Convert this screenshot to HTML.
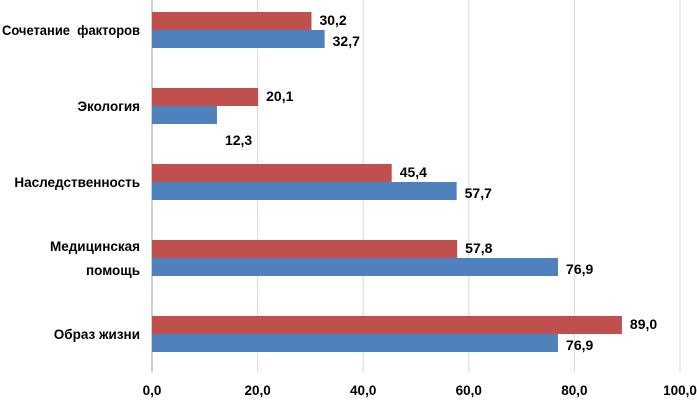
<!DOCTYPE html>
<html><head><meta charset="utf-8"><style>
html,body{margin:0;padding:0;background:#fff;}
svg{display:block;font-family:"Liberation Sans",sans-serif;}
</style></head><body>
<svg id="chart" width="697" height="400"></svg>
<script>
const categories = ["Сочетание  факторов","Экология","Наследственность","Медицинская|помощь","Образ жизни"];
const seriesRed = [30.2, 20.1, 45.4, 57.8, 89.0];
const seriesBlue = [32.7, 12.3, 57.7, 76.9, 76.9];
const ticks = [0,20,40,60,80,100];

const NS="http://www.w3.org/2000/svg";
const svg=document.getElementById('chart');
const x0=152,x1=680,yTop=0,band=76,barH=18,axisY=372;
const xs=v=>x0+(x1-x0)*v/100;
const yc=i=>30+band*i;
function mk(t,a){const e=document.createElementNS(NS,t);for(const k in a)e.setAttribute(k,a[k]);svg.appendChild(e);return e;}
const fmt=v=>v.toFixed(1).replace('.',',');

ticks.forEach(t=>{
  const g=mk('line',{x1:xs(t),x2:xs(t),y1:yTop,y2:axisY,stroke:t===0?'#a0a0a0':'#d9d9d9','stroke-width':1});
  
  
  const l=mk('text',{x:xs(t),y:395,'text-anchor':'middle','font-size':13.5,'font-weight':'bold',fill:'#000'});
  l.textContent=fmt(t);
  
  
});

categories.forEach((c,i)=>{
  const cy=yc(i);
  const r=mk('rect',{x:x0,y:cy-barH,width:xs(seriesRed[i])-x0,height:barH,fill:'#c0504d'});
  
  
  const b=mk('rect',{x:x0,y:cy,width:xs(seriesBlue[i])-x0,height:barH,fill:'#4f81bd'});
  
  
  const lr=mk('text',{x:xs(seriesRed[i])+8,y:cy-5,'font-size':14,'font-weight':'bold'});
  lr.textContent=fmt(seriesRed[i]);
  
  
  const below = seriesBlue[i] < 15 ? 23 : 0;
  const lb=mk('text',{x:xs(seriesBlue[i])+8,y:cy+16+below,'font-size':14,'font-weight':'bold'});
  lb.textContent=fmt(seriesBlue[i]);
  
  
  const parts=c.split('|');
  parts.forEach((p,j)=>{
    const t=mk('text',{x:140,y:cy+5+(j-(parts.length-1)/2)*24,'text-anchor':'end','font-size':13.5,'font-weight':'bold'});
    t.textContent=p;
    t.setAttribute('xml:space','preserve');
    t.style.whiteSpace='pre';
    if(p.length>18){t.setAttribute('textLength',138);t.setAttribute('lengthAdjust','spacingAndGlyphs');}
    
    
  });
});
</script>
</body></html>
